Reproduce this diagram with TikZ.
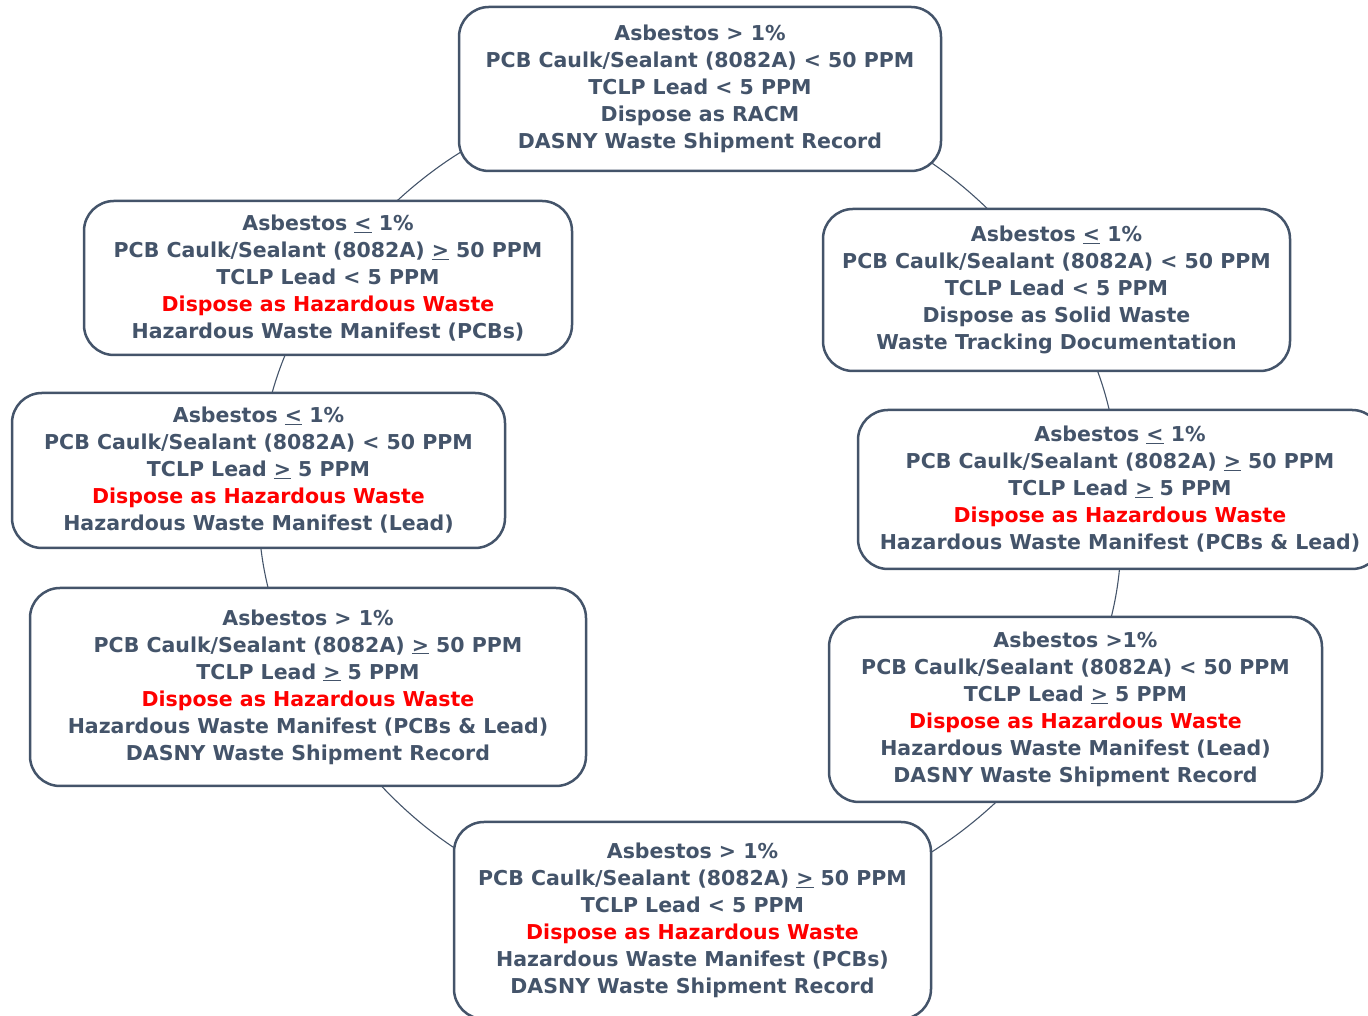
\documentclass[tikz,border=0pt]{standalone}
\usepackage{fontspec}
\setmainfont{DejaVu Sans}
\usetikzlibrary{backgrounds}
\definecolor{slate}{HTML}{44546A}
\definecolor{hzred}{HTML}{FF0000}
\newcommand{\hazline}{\textcolor{hzred}{Dispose as Hazardous Waste}}
\newcommand{\uleq}{\underline{<}}
\newcommand{\ugeq}{\underline{>}}
\begin{document}
\begin{tikzpicture}[x=1pt,y=1pt,
  box/.style={draw=slate, line width=2.5pt, rounded corners=30pt, fill=white,
    align=center, font=\fontsize{20.5}{27}\selectfont\bfseries, text=slate, inner sep=0pt},
  link/.style={draw=slate, line width=1.1pt}]
\useasboundingbox (0,0) rectangle (1368,1016);
\node[box, minimum width=482pt, minimum height=164pt] (n1) at (700,927)
  {Asbestos > 1\%\\PCB Caulk/Sealant (8082A) < 50 PPM\\TCLP Lead < 5 PPM\\Dispose as RACM\\DASNY Waste Shipment Record};
\node[box, minimum width=488pt, minimum height=154pt] (n2) at (328,738)
  {Asbestos \uleq{} 1\%\\PCB Caulk/Sealant (8082A) \ugeq{} 50 PPM\\TCLP Lead < 5 PPM\\\hazline\\Hazardous Waste Manifest (PCBs)};
\node[box, minimum width=467pt, minimum height=162pt] (n3) at (1056.5,726)
  {Asbestos \uleq{} 1\%\\PCB Caulk/Sealant (8082A) < 50 PPM\\TCLP Lead < 5 PPM\\Dispose as Solid Waste\\Waste Tracking Documentation};
\node[box, minimum width=493pt, minimum height=155pt] (n4) at (258.5,545.5)
  {Asbestos \uleq{} 1\%\\PCB Caulk/Sealant (8082A) < 50 PPM\\TCLP Lead \ugeq{} 5 PPM\\\hazline\\Hazardous Waste Manifest (Lead)};
\node[box, minimum width=524pt, minimum height=159pt] (n5) at (1120,526.5)
  {Asbestos \uleq{} 1\%\\PCB Caulk/Sealant (8082A) \ugeq{} 50 PPM\\TCLP Lead \ugeq{} 5 PPM\\\hazline\\Hazardous Waste Manifest (PCBs \& Lead)};
\node[box, minimum width=556pt, minimum height=198pt] (n6) at (308,329)
  {Asbestos > 1\%\\PCB Caulk/Sealant (8082A) \ugeq{} 50 PPM\\TCLP Lead \ugeq{} 5 PPM\\\hazline\\Hazardous Waste Manifest (PCBs \& Lead)\\DASNY Waste Shipment Record};
\node[box, minimum width=493pt, minimum height=185pt] (n7) at (1075.5,306.5)
  {Asbestos >1\%\\PCB Caulk/Sealant (8082A) < 50 PPM\\TCLP Lead \ugeq{} 5 PPM\\\hazline\\Hazardous Waste Manifest (Lead)\\DASNY Waste Shipment Record};
\node[box, minimum width=477pt, minimum height=197pt] (n8) at (692.5,95.5)
  {Asbestos > 1\%\\PCB Caulk/Sealant (8082A) \ugeq{} 50 PPM\\TCLP Lead < 5 PPM\\\hazline\\Hazardous Waste Manifest (PCBs)\\DASNY Waste Shipment Record};
\begin{scope}[on background layer]
\draw[link] (n3.center) to[bend right=25] (n1.center);
\draw[link] (n1.center) to[bend right=26] (n2.center);
\draw[link] (n2.center) to[bend right=14] (n4.center);
\draw[link] (n4.center) to[bend right=15] (n6.center);
\draw[link] (n6.center) to[bend right=28] (n8.center);
\draw[link] (n8.center) to[bend right=26] (n7.center);
\draw[link] (n7.center) to[bend right=15] (n5.center);
\draw[link] (n5.center) to[bend right=14] (n3.center);
\end{scope}
\end{tikzpicture}
\end{document}
